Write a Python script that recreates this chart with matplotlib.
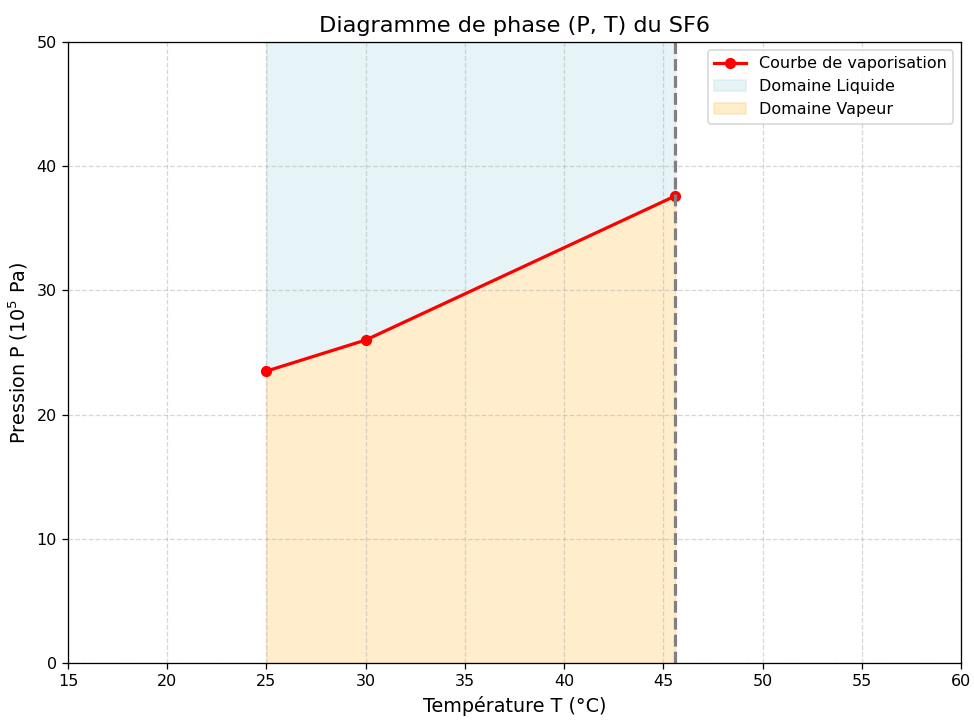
import matplotlib
matplotlib.use("Agg")
import matplotlib.pyplot as plt

# Courbe de vaporisation du SF6
T = [25, 30, 45.6]       # °C
P = [23.5, 26.0, 37.6]   # 10^5 Pa
T_crit = 45.6

fig, ax = plt.subplots(figsize=(975 / 115, 720 / 115), dpi=115)

ax.plot(T, P, 'o-', color='red', linewidth=2, markersize=6, label='Courbe de vaporisation')
ax.fill_between(T, P, 50, color='lightblue', alpha=0.3, label='Domaine Liquide')
ax.fill_between(T, 0, P, color='orange', alpha=0.2, label='Domaine Vapeur')
ax.axvline(T_crit, color='gray', linestyle='--', linewidth=2)

ax.set_xlim(15, 60)
ax.set_ylim(0, 50)
ax.set_xlabel('Température T (°C)', fontsize=12)
ax.set_ylabel('Pression P ($10^5$ Pa)', fontsize=12)
ax.set_title('Diagramme de phase (P, T) du SF6', fontsize=14)
ax.grid(True, linestyle='--', alpha=0.5)
ax.legend(loc='upper right')

plt.subplots_adjust(left=0.0697, right=0.9856, top=0.9417, bottom=0.0792)
plt.savefig('out.png', dpi=115)
